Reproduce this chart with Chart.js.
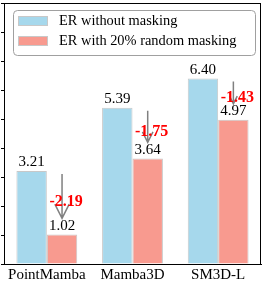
<!DOCTYPE html>
<html>
<head>
<meta charset="utf-8">
<script src="https://cdn.jsdelivr.net/npm/chart.js@4/dist/chart.umd.min.js"></script>
<style>
    html, body { margin: 0; padding: 0; background: #fff; }
    #wrap { width: 266px; height: 288px; }
</style>
</head>
<body>
<div id="wrap"><canvas id="erChart"></canvas></div>
<script>
const models = ['PointMamba', 'Mamba3D', 'SM3D-L'];
const erPlain = [3.21, 5.39, 6.40];
const erMasked = [1.02, 3.64, 4.97];
const seriesNames = ['ER without masking', 'ER with 20% random masking'];

const SERIF = "'Liberation Serif', 'Times New Roman', serif";

// -------- Plugins --------

// frame around the plot + legend box
const framePlugin = {
    id: 'frame',
    afterDraw(chart) {
        const { ctx, chartArea: a } = chart;
        ctx.save();
        ctx.strokeStyle = '#000';
        ctx.lineWidth = 1;
        ctx.strokeRect(a.left + 0.5, a.top + 0.5, a.right - a.left - 1, a.bottom - a.top);

        // legend
        const bx = a.left + 9, by = a.top + 7, bw = a.right - a.left - 15, bh = 45;
        ctx.beginPath();
        ctx.roundRect(bx + 0.5, by + 0.5, bw, bh, 4);
        ctx.fillStyle = 'rgba(255,255,255,0.9)';
        ctx.fill();
        ctx.strokeStyle = '#a0a0a0';
        ctx.stroke();

        chart.data.datasets.forEach((ds, i) => {
            const sy = by + 6 + i * 20;
            ctx.fillStyle = ds.backgroundColor;
            ctx.fillRect(bx + 5, sy, 30, 10);
            ctx.strokeStyle = '#c8c8c8';
            ctx.strokeRect(bx + 5.5, sy + 0.5, 29, 9);
            ctx.fillStyle = '#000';
            ctx.font = '14.4px ' + SERIF;
            ctx.textBaseline = 'middle';
            ctx.textAlign = 'left';
            ctx.fillText(ds.label, bx + 46, sy + 5.5);
        });
        ctx.restore();
    }
};

// value labels, drop arrows and differences
const labelPlugin = {
    id: 'labels',
    afterDatasetsDraw(chart) {
        const { ctx } = chart;
        const plain = chart.getDatasetMeta(0).data;
        const masked = chart.getDatasetMeta(1).data;
        ctx.save();
        ctx.font = '15px ' + SERIF;
        ctx.fillStyle = '#000';
        ctx.textAlign = 'center';
        ctx.textBaseline = 'bottom';
        plain.forEach((bar, i) => ctx.fillText(erPlain[i].toFixed(2), bar.x, bar.y - 1));
        masked.forEach((bar, i) => ctx.fillText(erMasked[i].toFixed(2), bar.x, bar.y - 1));

        masked.forEach((bar, i) => {
            const yTop = plain[i].y + 3;
            const yTip = bar.y - 16;
            const len = yTip - yTop;
            const head = len * 0.3 + 1;
            const half = head * 0.5;

            ctx.strokeStyle = '#808080';
            ctx.lineWidth = 1.5;
            ctx.beginPath();
            ctx.moveTo(bar.x, yTop);
            ctx.lineTo(bar.x, yTip);
            ctx.moveTo(bar.x - half, yTip - head);
            ctx.lineTo(bar.x, yTip);
            ctx.lineTo(bar.x + half, yTip - head);
            ctx.stroke();

            const diff = (erMasked[i] - erPlain[i]).toFixed(2);
            ctx.font = 'bold 16px ' + SERIF;
            ctx.fillStyle = '#ff0000';
            ctx.textBaseline = 'middle';
            ctx.fillText(diff, bar.x + 4, (plain[i].y + bar.y) / 2 - 1);
        });
        ctx.restore();
    }
};

// -------- Chart --------

new Chart(document.getElementById('erChart'), {
    type: 'bar',
    data: {
        labels: models,
        datasets: [
            {
                label: seriesNames[0],
                data: erPlain,
                backgroundColor: '#a6d8ec',
                borderColor: '#c8c8c8',
                borderWidth: 1
            },
            {
                label: seriesNames[1],
                data: erMasked,
                backgroundColor: '#f89a8f',
                borderColor: '#c8c8c8',
                borderWidth: 1
            }
        ]
    },
    options: {
        responsive: true,
        maintainAspectRatio: false,
        animation: false,
        layout: { padding: { top: 3, right: 5, left: 1, bottom: 2 } },
        datasets: {
            bar: { categoryPercentage: 0.71, barPercentage: 1 }
        },
        plugins: {
            legend: { display: false },
            tooltip: { enabled: false }
        },
        scales: {
            x: {
                grid: { display: false, drawTicks: false },
                border: { color: '#000' },
                ticks: {
                    color: '#000',
                    padding: 2,
                    font: { family: SERIF, size: 15 }
                }
            },
            y: {
                min: 0,
                max: 9,
                ticks: { display: false, stepSize: 1 },
                grid: { drawOnChartArea: false, drawTicks: true, tickLength: 3, color: '#000' },
                border: { color: '#000' }
            }
        }
    },
    plugins: [framePlugin, labelPlugin]
});
</script>
</body>
</html>
